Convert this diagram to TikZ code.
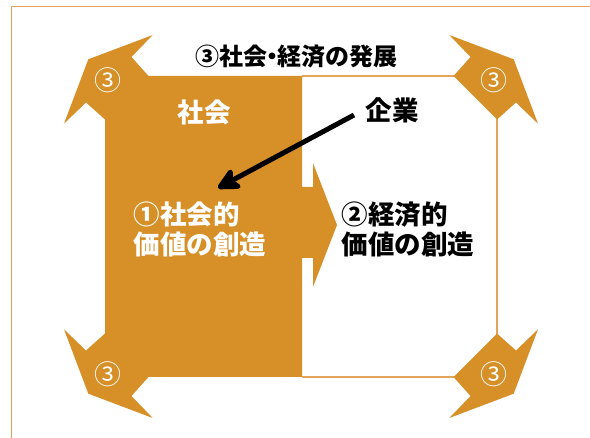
\documentclass[tikz,border=0pt]{standalone}
\usepackage{fontspec}
\newfontfamily\jp{Noto Sans CJK JP}
\usetikzlibrary{arrows.meta}
\definecolor{accent}{HTML}{D78F27}
\definecolor{framecol}{HTML}{E2A45A}
\tikzset{
  bigtext/.style={font=\jp\bfseries\fontsize{26.5}{29.5}\selectfont, inner sep=0pt, align=left},
  titletext/.style={font=\jp\bfseries\fontsize{24}{28}\selectfont, inner sep=0pt},
  circnum/.style={font=\jp\fontsize{27}{30}\selectfont, inner sep=0pt, text=white},
  outline/.style={draw=framecol, line width=1.2pt},
}
\newcommand{\cornershape}{%
  \fill[accent] (0,43.5) -- (-19,26.5) -- (-41,47.7) -- (-16.7,-16.7) -- (47.7,-41) -- (26.5,-19) -- (43.5,0) -- cycle;}
\begin{document}
\begin{tikzpicture}[x=1pt,y=-1pt]
\useasboundingbox (0,0) rectangle (590,438);
\clip (0,0) rectangle (590,438);
% outer frame
\draw[outline, line width=1.3pt] (11.5,6.5) rectangle (640,480);
% white box outline
\draw[outline] (302,76) -- (497,76) -- (497,377) -- (302,377);
% left orange panel with right-pointing arrow
\fill[accent] (105,76) -- (302,76) -- (302,187) -- (313,187) -- (313,163) -- (337,225)
  -- (313,287) -- (313,258) -- (302,258) -- (302,377) -- (105,377) -- cycle;
% corner arrows
\begin{scope}[shift={(105,76)}]\cornershape\end{scope}
\begin{scope}[shift={(497,76)},xscale=-1]\cornershape\end{scope}
\begin{scope}[shift={(105,377)},yscale=-1]\cornershape\end{scope}
\begin{scope}[shift={(497,377)},xscale=-1,yscale=-1]\cornershape\end{scope}
% texts
\node[titletext] (title) at (296.5,57) {③社会\makebox[0.42em]{・}経済の発展};
\node[bigtext, text=white] (shakai) at (204,112) {社会};
\node[bigtext] (kigyo) at (392,110) {企業};
\node[bigtext, text=white, anchor=west] (val1) at (133.5,229.5) {①社会的\\価値の創造};
\node[bigtext, anchor=west] (val2) at (341.5,229.5) {②経済的\\価値の創造};
\node[circnum] (c3a) at (107.5,80.5) {③};
\node[circnum] (c3b) at (494,80.5) {③};
\node[circnum] (c3c) at (108,374) {③};
\node[circnum] (c3d) at (494,374) {③};
% black arrow
\coordinate (astart) at (354,115);
\coordinate (atip) at (218,188);
\draw[line width=5pt, -{Stealth[length=27pt,width=27pt,inset=7pt,round]}] (astart) -- (atip);
\end{tikzpicture}
\end{document}
